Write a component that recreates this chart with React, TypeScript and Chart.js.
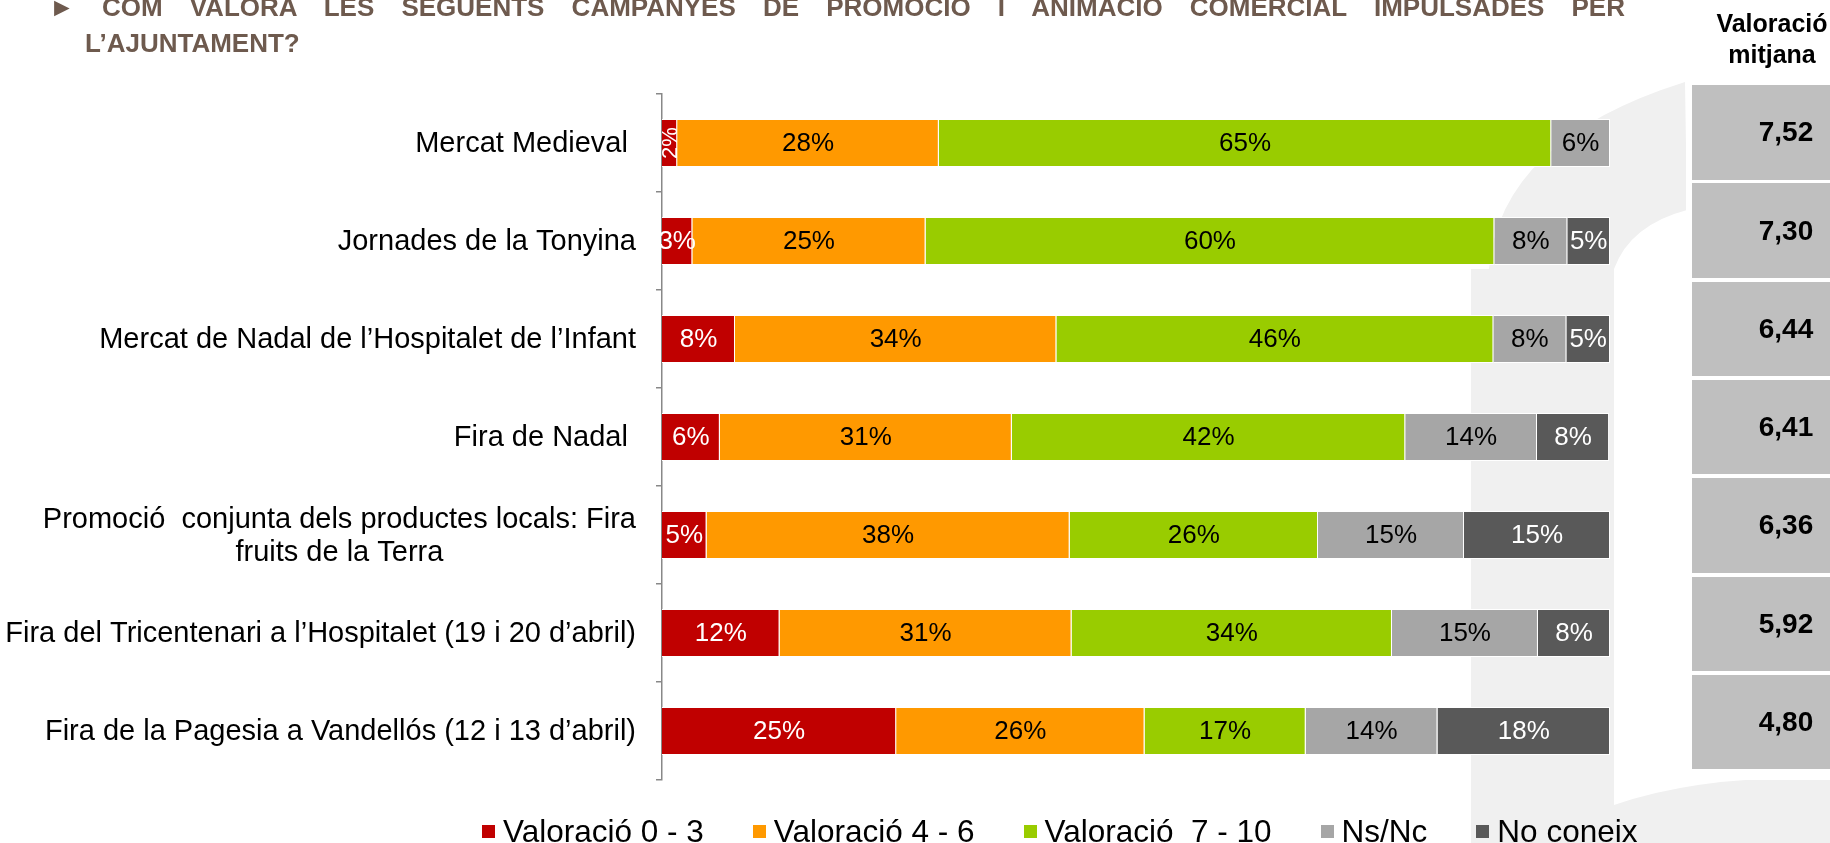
import React, { useEffect, useRef } from "react";
import { Chart, registerables } from "chart.js";

Chart.register(...registerables);

// ---------- data ----------
const titleLine1 =
  "► COM VALORA LES SEGÜENTS CAMPANYES DE PROMOCIÓ I ANIMACIÓ COMERCIAL IMPULSADES PER";
const titleLine2 = "L’AJUNTAMENT?";
const tableHeader = ["Valoració", "mitjana"];

const categories: (string | string[])[] = [
  "Mercat Medieval ",
  "Jornades de la Tonyina",
  "Mercat de Nadal de l’Hospitalet de l’Infant",
  "Fira de Nadal ",
  ["Promoció  conjunta dels productes locals: Fira", "fruits de la Terra"],
  "Fira del Tricentenari a l’Hospitalet (19 i 20 d’abril)",
  "Fira de la Pagesia a Vandellós (12 i 13 d’abril)",
];

const seriesNames = [
  "Valoració 0 - 3",
  "Valoració 4 - 6",
  "Valoració  7 - 10",
  "Ns/Nc",
  "No coneix",
];

const valoracio0a3 = [1.6, 3.2, 7.7, 6.1, 4.7, 12.4, 24.7];
const valoracio4a6 = [27.6, 24.6, 33.9, 30.8, 38.3, 30.8, 26.2];
const valoracio7a10 = [64.6, 60.0, 46.1, 41.5, 26.2, 33.8, 17.0];
const nsNc = [6.2, 7.7, 7.7, 13.9, 15.4, 15.4, 13.9];
const noConeix = [0, 4.5, 4.6, 7.6, 15.4, 7.6, 18.2];

const valoracioMitjana = ["7,52", "7,30", "6,44", "6,41", "6,36", "5,92", "4,80"];

// ---------- styles ----------
const seriesColors = ["#C00000", "#FF9900", "#99CC00", "#A6A6A6", "#595959"];
const labelColors = ["#FFFFFF", "#000000", "#000000", "#000000", "#FFFFFF"];
const FONT = '"Liberation Sans", Arial, sans-serif';

const backgroundPlugin = {
  id: "bgSwoosh",
  beforeDraw(chart: any) {
    const ctx = chart.ctx as CanvasRenderingContext2D;
    ctx.save();
    ctx.fillStyle = "#F0F0F0";
    ctx.beginPath();
    ctx.moveTo(1685, 82);
    ctx.lineTo(1687, 210);
    ctx.quadraticCurveTo(1630, 225, 1614, 269);
    ctx.lineTo(1614, 843);
    ctx.lineTo(1471, 843);
    ctx.lineTo(1471, 269);
    ctx.lineTo(1489, 269);
    ctx.quadraticCurveTo(1500, 140, 1685, 82);
    ctx.closePath();
    ctx.fill();
    ctx.beginPath();
    ctx.moveTo(1614, 843);
    ctx.lineTo(1614, 805);
    ctx.quadraticCurveTo(1700, 775, 1830, 778);
    ctx.lineTo(1830, 843);
    ctx.closePath();
    ctx.fill();
    ctx.restore();
  },
};

const labelsPlugin = {
  id: "customLabels",
  afterDatasetsDraw(chart: any) {
    const ctx = chart.ctx as CanvasRenderingContext2D;
    ctx.save();
    ctx.textBaseline = "middle";
    ctx.textAlign = "center";
    chart.data.datasets.forEach((ds: any, di: number) => {
      const meta = chart.getDatasetMeta(di);
      meta.data.forEach((el: any, i: number) => {
        const v = ds.data[i];
        if (!v) return;
        const { x, y, base } = el.getProps(["x", "y", "base"], true);
        const w = Math.abs(x - base);
        const cx = (x + base) / 2;
        const text = Math.round(v) + "%";
        ctx.fillStyle = labelColors[di];
        if (w < 20) {
          ctx.font = `22px ${FONT}`;
          ctx.save();
          ctx.translate(cx, y);
          ctx.rotate(-Math.PI / 2);
          ctx.fillText(text, 0, 1);
          ctx.restore();
        } else {
          ctx.font = `26px ${FONT}`;
          ctx.fillText(text, cx, y + 1);
        }
      });
    });
    ctx.restore();
  },
  afterDraw(chart: any) {
    const ctx = chart.ctx as CanvasRenderingContext2D;
    const yScale = chart.scales.y;
    const right = yScale.right - 26;
    ctx.save();
    ctx.font = `29px ${FONT}`;
    ctx.fillStyle = "#000000";
    ctx.textBaseline = "middle";
    const lh = 33;
    (chart.data.labels as (string | string[])[]).forEach((lab, i) => {
      const y = yScale.getPixelForValue(i);
      const lines = Array.isArray(lab) ? lab : [lab];
      if (lines.length === 1) {
        ctx.textAlign = "right";
        ctx.fillText(lines[0], right, y + 1);
      } else {
        const maxW = Math.max(...lines.map((l) => ctx.measureText(l).width));
        const cx = right - maxW / 2;
        ctx.textAlign = "center";
        lines.forEach((l, k) => {
          ctx.fillText(l, cx, y + 1 + (k - (lines.length - 1) / 2) * lh);
        });
      }
    });
    ctx.restore();
  },
};

export default function App() {
  const canvasRef = useRef<HTMLCanvasElement | null>(null);

  useEffect(() => {
    if (!canvasRef.current) return;
    const seriesData = [valoracio0a3, valoracio4a6, valoracio7a10, nsNc, noConeix];
    const chart = new Chart(canvasRef.current, {
      type: "bar",
      data: {
        labels: categories as any,
        datasets: seriesNames.map((name, i) => ({
          label: name,
          data: seriesData[i],
          backgroundColor: seriesColors[i],
          borderColor: "#FFFFFF",
          borderWidth: 1,
          borderSkipped: "start" as const,
          barPercentage: 0.49,
          categoryPercentage: 1,
        })),
      },
      options: {
        indexAxis: "y",
        responsive: false,
        animation: false,
        layout: { padding: { top: 94, bottom: 63, left: 0, right: 220 } },
        plugins: {
          legend: { display: false },
          tooltip: { enabled: false },
          title: { display: false },
        },
        scales: {
          x: { stacked: true, min: 0, max: 100, display: false },
          y: {
            stacked: true,
            afterFit: (scale: any) => {
              scale.width = 662;
            },
            ticks: { display: false },
            grid: {
              display: true,
              drawOnChartArea: false,
              drawTicks: true,
              tickLength: 6,
              color: "#888888",
              lineWidth: 1.5,
              offset: true,
            },
            border: { display: true, color: "#888888", width: 1.5 },
          },
        },
      },
      plugins: [backgroundPlugin, labelsPlugin],
    });
    return () => chart.destroy();
  }, []);

  return (
    <div
      style={{
        position: "absolute",
        left: 0,
        top: 0,
        width: 1830,
        height: 843,
        overflow: "hidden",
        background: "#FFFFFF",
        fontFamily: FONT,
      }}
    >
      <canvas
        ref={canvasRef}
        width={1830}
        height={843}
        style={{ position: "absolute", left: 0, top: 0, width: 1830, height: 843 }}
      />
      {/* title */}
      <div
        style={{
          position: "absolute",
          left: 49,
          top: -8,
          width: 1576,
          fontSize: 26,
          lineHeight: "30px",
          fontWeight: "bold",
          color: "#6E5A4E",
          textAlign: "justify",
          textAlignLast: "justify" as any,
        }}
      >
        {titleLine1}
      </div>
      <div
        style={{
          position: "absolute",
          left: 85,
          top: 28,
          fontSize: 26,
          lineHeight: "30px",
          fontWeight: "bold",
          color: "#6E5A4E",
        }}
      >
        {titleLine2}
      </div>
      {/* table header */}
      <div
        style={{
          position: "absolute",
          left: 1697,
          top: 8,
          width: 150,
          textAlign: "center",
          fontSize: 25,
          lineHeight: "31px",
          fontWeight: "bold",
          color: "#000",
        }}
      >
        {tableHeader.map((t, i) => (
          <div key={i}>{t}</div>
        ))}
      </div>
      {/* table boxes */}
      <div
        style={{
          position: "absolute",
          left: 1686,
          top: 80,
          width: 144,
          height: 700,
          background: "#FFFFFF",
        }}
      />
      {valoracioMitjana.map((v, i) => (
        <div
          key={i}
          style={{
            position: "absolute",
            left: 1692,
            top: 85 + i * 98.3,
            width: 138,
            height: 94.5,
            background: "#BFBFBF",
            boxSizing: "border-box",
            paddingLeft: 50,
            display: "flex",
            alignItems: "center",
            justifyContent: "center",
            fontSize: 28,
            fontWeight: "bold",
            color: "#000",
          }}
        >
          {v}
        </div>
      ))}
      {/* legend */}
      <div
        style={{
          position: "absolute",
          left: 482,
          top: 812,
          height: 38,
          display: "flex",
          alignItems: "center",
          gap: 49,
          fontSize: 31.5,
          whiteSpace: "pre",
          color: "#000",
        }}
      >
        {seriesNames.map((n, i) => (
          <div key={i} style={{ display: "flex", alignItems: "center" }}>
            <span
              style={{
                display: "inline-block",
                width: 13,
                height: 13,
                background: seriesColors[i],
                marginRight: 8,
              }}
            />
            <span>{n}</span>
          </div>
        ))}
      </div>
    </div>
  );
}
